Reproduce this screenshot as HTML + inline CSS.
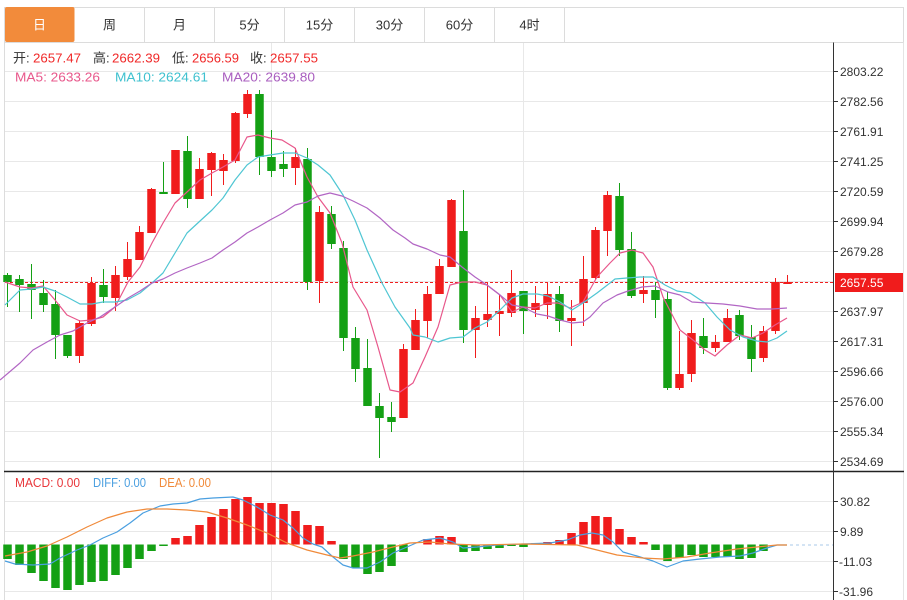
<!DOCTYPE html>
<html><head><meta charset="utf-8"><style>
html,body{margin:0;padding:0;background:#fff;}
svg{display:block;}
text{font-family:"Liberation Sans","Noto Sans CJK SC",sans-serif;}
</style></head><body>
<svg width="907" height="600" viewBox="0 0 907 600" xmlns="http://www.w3.org/2000/svg">
<rect x="0" y="0" width="907" height="600" fill="#fff"/>
<!-- tab bar -->
<rect x="4.5" y="7.5" width="899" height="35" fill="#fff" stroke="#dcdcdc"/>
<g stroke="#dcdcdc">
<line x1="144.5" y1="7.5" x2="144.5" y2="42.5"/><line x1="214.5" y1="7.5" x2="214.5" y2="42.5"/>
<line x1="284.5" y1="7.5" x2="284.5" y2="42.5"/><line x1="354.5" y1="7.5" x2="354.5" y2="42.5"/>
<line x1="424.5" y1="7.5" x2="424.5" y2="42.5"/><line x1="494.5" y1="7.5" x2="494.5" y2="42.5"/>
<line x1="564.5" y1="7.5" x2="564.5" y2="42.5"/>
</g>
<rect x="5" y="7" width="69.5" height="35" rx="2" fill="#f28b3b"/>
<g font-size="13" fill="#333" text-anchor="middle">
<text x="39.5" y="29.5" fill="#fff">日</text>
<text x="109.5" y="29.5">周</text>
<text x="179.5" y="29.5">月</text>
<text x="249.5" y="29.5">5分</text>
<text x="319.5" y="29.5">15分</text>
<text x="389.5" y="29.5">30分</text>
<text x="459.5" y="29.5">60分</text>
<text x="529.5" y="29.5">4时</text>
</g>
<!-- borders -->
<line x1="4.5" y1="42.5" x2="4.5" y2="600" stroke="#dcdcdc"/>
<line x1="903.5" y1="42.5" x2="903.5" y2="600" stroke="#e4e4e4"/>
<!-- grid -->
<g stroke="#e8e8e8" stroke-width="1">
<line x1="5" y1="71.5" x2="833" y2="71.5"/><line x1="5" y1="101.5" x2="833" y2="101.5"/>
<line x1="5" y1="131.5" x2="833" y2="131.5"/><line x1="5" y1="161.5" x2="833" y2="161.5"/>
<line x1="5" y1="191.5" x2="833" y2="191.5"/><line x1="5" y1="221.5" x2="833" y2="221.5"/>
<line x1="5" y1="251.5" x2="833" y2="251.5"/><line x1="5" y1="281.5" x2="833" y2="281.5"/>
<line x1="5" y1="311.5" x2="833" y2="311.5"/><line x1="5" y1="341.5" x2="833" y2="341.5"/>
<line x1="5" y1="371.5" x2="833" y2="371.5"/><line x1="5" y1="401.5" x2="833" y2="401.5"/>
<line x1="5" y1="431.5" x2="833" y2="431.5"/><line x1="5" y1="461.5" x2="833" y2="461.5"/>
<line x1="5" y1="501.5" x2="833" y2="501.5"/><line x1="5" y1="531.5" x2="833" y2="531.5"/>
<line x1="5" y1="561.5" x2="833" y2="561.5"/><line x1="5" y1="591.5" x2="833" y2="591.5"/>
<line x1="271.5" y1="43" x2="271.5" y2="600"/><line x1="523.5" y1="43" x2="523.5" y2="600"/>
</g>
<!-- header text -->
<g font-size="13">
<text x="13" y="62.5" fill="#333">开:</text><text x="33" y="62.5" fill="#f02828" textLength="48" lengthAdjust="spacingAndGlyphs">2657.47</text>
<text x="93" y="62.5" fill="#333">高:</text><text x="112" y="62.5" fill="#f02828" textLength="48" lengthAdjust="spacingAndGlyphs">2662.39</text>
<text x="172" y="62.5" fill="#333">低:</text><text x="192" y="62.5" fill="#f02828" textLength="47" lengthAdjust="spacingAndGlyphs">2656.59</text>
<text x="250" y="62.5" fill="#333">收:</text><text x="270" y="62.5" fill="#f02828" textLength="48" lengthAdjust="spacingAndGlyphs">2657.55</text>
<text x="15" y="81.5" fill="#e8578b" textLength="85" lengthAdjust="spacingAndGlyphs">MA5: 2633.26</text>
<text x="115" y="81.5" fill="#3fc1cf" textLength="93" lengthAdjust="spacingAndGlyphs">MA10: 2624.61</text>
<text x="222" y="81.5" fill="#a95ebf" textLength="93" lengthAdjust="spacingAndGlyphs">MA20: 2639.80</text>
</g>
<!-- last price dashed line -->
<line x1="5" y1="282.5" x2="833" y2="282.5" stroke="#f02020" stroke-dasharray="3,2"/>
<!-- green candles -->
<g fill="#14a014" stroke="#14a014" stroke-width="1">
<line x1="7.5" y1="273" x2="7.5" y2="307"/><rect x="3.25" y="275" width="8.5" height="7" stroke="none"/>
<line x1="19.5" y1="275" x2="19.5" y2="312"/><rect x="15.25" y="279" width="8.5" height="6" stroke="none"/>
<line x1="31.5" y1="264" x2="31.5" y2="319"/><rect x="27.25" y="284" width="8.5" height="6" stroke="none"/>
<line x1="43.5" y1="280" x2="43.5" y2="312"/><rect x="39.25" y="293" width="8.5" height="12" stroke="none"/>
<line x1="55.5" y1="290" x2="55.5" y2="359"/><rect x="51.25" y="304" width="8.5" height="31" stroke="none"/>
<line x1="67.5" y1="335" x2="67.5" y2="358"/><rect x="63.25" y="335" width="8.5" height="21" stroke="none"/>
<line x1="103.5" y1="269" x2="103.5" y2="303"/><rect x="99.25" y="285" width="8.5" height="12" stroke="none"/>
<line x1="163.5" y1="162" x2="163.5" y2="194"/><rect x="159.25" y="192" width="8.5" height="2" stroke="none"/>
<line x1="187.5" y1="136" x2="187.5" y2="208"/><rect x="183.25" y="151" width="8.5" height="48" stroke="none"/>
<line x1="259.5" y1="90" x2="259.5" y2="175"/><rect x="255.25" y="94" width="8.5" height="63" stroke="none"/>
<line x1="271.5" y1="130" x2="271.5" y2="177"/><rect x="267.25" y="157" width="8.5" height="14" stroke="none"/>
<line x1="283.5" y1="151" x2="283.5" y2="177"/><rect x="279.25" y="164" width="8.5" height="5" stroke="none"/>
<line x1="307.5" y1="148" x2="307.5" y2="290"/><rect x="303.25" y="159" width="8.5" height="123" stroke="none"/>
<line x1="331.5" y1="206" x2="331.5" y2="249"/><rect x="327.25" y="214" width="8.5" height="30" stroke="none"/>
<line x1="343.5" y1="241" x2="343.5" y2="351"/><rect x="339.25" y="248" width="8.5" height="90" stroke="none"/>
<line x1="355.5" y1="327" x2="355.5" y2="382"/><rect x="351.25" y="338" width="8.5" height="31" stroke="none"/>
<line x1="367.5" y1="339" x2="367.5" y2="406"/><rect x="363.25" y="368" width="8.5" height="38" stroke="none"/>
<line x1="379.5" y1="393" x2="379.5" y2="458"/><rect x="375.25" y="406" width="8.5" height="12" stroke="none"/>
<line x1="391.5" y1="402" x2="391.5" y2="432"/><rect x="387.25" y="417" width="8.5" height="5" stroke="none"/>
<line x1="463.5" y1="190" x2="463.5" y2="343"/><rect x="459.25" y="231" width="8.5" height="99" stroke="none"/>
<line x1="523.5" y1="291" x2="523.5" y2="334"/><rect x="519.25" y="291" width="8.5" height="20" stroke="none"/>
<line x1="559.5" y1="286" x2="559.5" y2="332"/><rect x="555.25" y="294" width="8.5" height="27" stroke="none"/>
<line x1="619.5" y1="183" x2="619.5" y2="256"/><rect x="615.25" y="196" width="8.5" height="54" stroke="none"/>
<line x1="631.5" y1="232" x2="631.5" y2="298"/><rect x="627.25" y="249" width="8.5" height="47" stroke="none"/>
<line x1="655.5" y1="282" x2="655.5" y2="318"/><rect x="651.25" y="290" width="8.5" height="10" stroke="none"/>
<line x1="667.5" y1="292" x2="667.5" y2="390"/><rect x="663.25" y="299" width="8.5" height="89" stroke="none"/>
<line x1="703.5" y1="318" x2="703.5" y2="354"/><rect x="699.25" y="336" width="8.5" height="12" stroke="none"/>
<line x1="739.5" y1="310" x2="739.5" y2="340"/><rect x="735.25" y="315" width="8.5" height="21" stroke="none"/>
<line x1="751.5" y1="325" x2="751.5" y2="372"/><rect x="747.25" y="337" width="8.5" height="22" stroke="none"/>
</g>
<!-- red candles -->
<g fill="#f01c1c" stroke="#f01c1c" stroke-width="1">
<line x1="79.5" y1="320" x2="79.5" y2="363"/><rect x="75.25" y="323" width="8.5" height="33" stroke="none"/>
<line x1="91.5" y1="277" x2="91.5" y2="326"/><rect x="87.25" y="283" width="8.5" height="41" stroke="none"/>
<line x1="115.5" y1="266" x2="115.5" y2="311"/><rect x="111.25" y="275" width="8.5" height="23" stroke="none"/>
<line x1="127.5" y1="242" x2="127.5" y2="280"/><rect x="123.25" y="259" width="8.5" height="18" stroke="none"/>
<line x1="139.5" y1="226" x2="139.5" y2="260"/><rect x="135.25" y="232" width="8.5" height="28" stroke="none"/>
<line x1="151.5" y1="188" x2="151.5" y2="233"/><rect x="147.25" y="189" width="8.5" height="44" stroke="none"/>
<line x1="175.5" y1="150" x2="175.5" y2="194"/><rect x="171.25" y="150" width="8.5" height="44" stroke="none"/>
<line x1="199.5" y1="158" x2="199.5" y2="199"/><rect x="195.25" y="169" width="8.5" height="30" stroke="none"/>
<line x1="211.5" y1="152" x2="211.5" y2="196"/><rect x="207.25" y="153" width="8.5" height="17" stroke="none"/>
<line x1="223.5" y1="154" x2="223.5" y2="185"/><rect x="219.25" y="160" width="8.5" height="11" stroke="none"/>
<line x1="235.5" y1="112" x2="235.5" y2="163"/><rect x="231.25" y="113" width="8.5" height="48" stroke="none"/>
<line x1="247.5" y1="90" x2="247.5" y2="118"/><rect x="243.25" y="94" width="8.5" height="20" stroke="none"/>
<line x1="295.5" y1="148" x2="295.5" y2="185"/><rect x="291.25" y="157" width="8.5" height="11" stroke="none"/>
<line x1="319.5" y1="206" x2="319.5" y2="303"/><rect x="315.25" y="212" width="8.5" height="69" stroke="none"/>
<line x1="403.5" y1="344" x2="403.5" y2="418"/><rect x="399.25" y="349" width="8.5" height="69" stroke="none"/>
<line x1="415.5" y1="309" x2="415.5" y2="350"/><rect x="411.25" y="320" width="8.5" height="30" stroke="none"/>
<line x1="427.5" y1="286" x2="427.5" y2="338"/><rect x="423.25" y="294" width="8.5" height="27" stroke="none"/>
<line x1="439.5" y1="259" x2="439.5" y2="294"/><rect x="435.25" y="266" width="8.5" height="28" stroke="none"/>
<line x1="451.5" y1="199" x2="451.5" y2="267"/><rect x="447.25" y="200" width="8.5" height="67" stroke="none"/>
<line x1="475.5" y1="306" x2="475.5" y2="358"/><rect x="471.25" y="318" width="8.5" height="12" stroke="none"/>
<line x1="487.5" y1="283" x2="487.5" y2="327"/><rect x="483.25" y="314" width="8.5" height="6" stroke="none"/>
<line x1="499.5" y1="295" x2="499.5" y2="336"/><rect x="495.25" y="311" width="8.5" height="3" stroke="none"/>
<line x1="511.5" y1="270" x2="511.5" y2="317"/><rect x="507.25" y="293" width="8.5" height="20" stroke="none"/>
<line x1="535.5" y1="286" x2="535.5" y2="317"/><rect x="531.25" y="303" width="8.5" height="7" stroke="none"/>
<line x1="547.5" y1="283" x2="547.5" y2="319"/><rect x="543.25" y="294" width="8.5" height="11" stroke="none"/>
<line x1="571.5" y1="300" x2="571.5" y2="346"/><rect x="567.25" y="318" width="8.5" height="3" stroke="none"/>
<line x1="583.5" y1="256" x2="583.5" y2="326"/><rect x="579.25" y="279" width="8.5" height="24" stroke="none"/>
<line x1="595.5" y1="227" x2="595.5" y2="280"/><rect x="591.25" y="230" width="8.5" height="48" stroke="none"/>
<line x1="607.5" y1="191" x2="607.5" y2="256"/><rect x="603.25" y="195" width="8.5" height="36" stroke="none"/>
<line x1="643.5" y1="276" x2="643.5" y2="303"/><rect x="639.25" y="290" width="8.5" height="4" stroke="none"/>
<line x1="679.5" y1="331" x2="679.5" y2="390"/><rect x="675.25" y="374" width="8.5" height="14" stroke="none"/>
<line x1="691.5" y1="320" x2="691.5" y2="382"/><rect x="687.25" y="333" width="8.5" height="41" stroke="none"/>
<line x1="715.5" y1="335" x2="715.5" y2="352"/><rect x="711.25" y="342" width="8.5" height="6" stroke="none"/>
<line x1="727.5" y1="309" x2="727.5" y2="342"/><rect x="723.25" y="318" width="8.5" height="24" stroke="none"/>
<line x1="763.5" y1="326" x2="763.5" y2="362"/><rect x="759.25" y="331" width="8.5" height="27" stroke="none"/>
<line x1="775.5" y1="278" x2="775.5" y2="334"/><rect x="771.25" y="282" width="8.5" height="49" stroke="none"/>
<line x1="787.5" y1="275" x2="787.5" y2="284"/><rect x="783.25" y="282" width="8.5" height="2" stroke="none"/>
</g>
<!-- MA lines -->
<g fill="none" stroke-width="1.2" stroke-linejoin="round">
<polyline stroke="#e8578b" points="5,282 20,287 32,288 43,286 55,300 67,315 80,321 92,320 103,317 115,307 128,282 140,267 152,243 163,223 175,203 187,192 200,180 212,173 223,167 235,160 247,137 258,135 270,138 282,140 295,148 307,177 318,197 330,213 342,243 353,287 367,310 378,347 390,390 400,392 413,383 425,357 438,327 450,285 462,282 475,282 487,285 500,295 512,312 523,307 535,308 547,303 558,303 570,308 583,302 597,277 610,263 620,253 632,250 643,253 653,267 663,297 680,330 693,340 705,350 715,356 727,345 740,335 752,338 763,333 775,325 787,318"/>
<polyline stroke="#4fc6d3" points="5,305 20,290 32,289 43,287 55,291 67,297 80,304 92,304 103,302 115,302 127,300 140,293 152,283 163,273 175,253 187,233 200,221 212,210 223,198 235,180 247,165 258,157 270,155 283,153 295,153 307,158 318,165 330,175 343,195 355,220 367,250 382,283 395,307 400,314 410,328 413,335 425,337 438,342 450,338 463,337 475,328 487,322 500,310 512,298 523,294 537,294 548,296 560,302 572,310 583,303 597,293 610,283 615,279 627,278 640,277 653,277 665,285 677,291 690,293 705,303 717,317 730,330 743,337 757,341 767,342 777,338 787,331"/>
<polyline stroke="#b266c4" points="0,380 20,363 33,350 47,342 60,335 73,331 87,323 100,317 115,307 128,298 140,291 152,283 163,279 175,273 187,268 200,263 212,258 223,250 235,242 247,233 258,227 270,220 283,213 295,205 307,202 318,196 330,193 342,196 353,201 367,208 380,218 393,230 405,238 413,244 427,249 440,255 450,257 462,267 475,277 487,285 500,295 512,305 523,307 537,314 548,316 560,320 572,323 583,322 590,317 603,303 617,295 628,291 642,287 655,286 668,292 680,295 692,302 707,303 723,304 740,306 757,309 772,309 787,308"/>
</g>
<!-- MACD labels -->
<g font-size="13">
<text x="15" y="487" fill="#e8363a" textLength="65" lengthAdjust="spacingAndGlyphs">MACD: 0.00</text>
<text x="93" y="487" fill="#4a9fe0" textLength="53" lengthAdjust="spacingAndGlyphs">DIFF: 0.00</text>
<text x="159" y="487" fill="#f08a3a" textLength="52" lengthAdjust="spacingAndGlyphs">DEA: 0.00</text>
</g>
<!-- MACD bars green -->
<g fill="#14a014">
<rect x="3.25" y="544.5" width="8.5" height="14.5"/><rect x="15.25" y="544.5" width="8.5" height="20.5"/>
<rect x="27.25" y="544.5" width="8.5" height="28.5"/><rect x="39.25" y="544.5" width="8.5" height="36.5"/>
<rect x="51.25" y="544.5" width="8.5" height="43.5"/><rect x="63.25" y="544.5" width="8.5" height="45.5"/>
<rect x="75.25" y="544.5" width="8.5" height="40.5"/><rect x="87.25" y="544.5" width="8.5" height="37.5"/>
<rect x="99.25" y="544.5" width="8.5" height="36.5"/><rect x="111.25" y="544.5" width="8.5" height="30.5"/>
<rect x="123.25" y="544.5" width="8.5" height="23.5"/><rect x="135.25" y="544.5" width="8.5" height="14.5"/>
<rect x="147.25" y="544.5" width="8.5" height="6.5"/><rect x="159.25" y="544.5" width="8.5" height="1.5"/>
<rect x="339.25" y="544.5" width="8.5" height="14.5"/><rect x="351.25" y="544.5" width="8.5" height="23.5"/>
<rect x="363.25" y="544.5" width="8.5" height="29.5"/><rect x="375.25" y="544.5" width="8.5" height="27.5"/>
<rect x="387.25" y="544.5" width="8.5" height="21.5"/><rect x="399.25" y="544.5" width="8.5" height="7.5"/>
<rect x="459.25" y="544.5" width="8.5" height="7.5"/><rect x="471.25" y="544.5" width="8.5" height="6.5"/>
<rect x="483.25" y="544.5" width="8.5" height="4.5"/><rect x="495.25" y="544.5" width="8.5" height="3.5"/>
<rect x="507.25" y="544.5" width="8.5" height="1.5"/><rect x="519.25" y="544.5" width="8.5" height="2.5"/>
<rect x="651.25" y="544.5" width="8.5" height="5.5"/><rect x="663.25" y="544.5" width="8.5" height="16.5"/>
<rect x="675.25" y="544.5" width="8.5" height="13.5"/><rect x="687.25" y="544.5" width="8.5" height="10.5"/>
<rect x="699.25" y="544.5" width="8.5" height="12.5"/><rect x="711.25" y="544.5" width="8.5" height="12.5"/>
<rect x="723.25" y="544.5" width="8.5" height="12.5"/><rect x="735.25" y="544.5" width="8.5" height="14.5"/>
<rect x="747.25" y="544.5" width="8.5" height="13.5"/><rect x="759.25" y="544.5" width="8.5" height="6.5"/>
</g>
<!-- MACD bars red -->
<g fill="#f01c1c">
<rect x="171.25" y="538" width="8.5" height="6.5"/><rect x="183.25" y="536" width="8.5" height="8.5"/>
<rect x="195.25" y="525" width="8.5" height="19.5"/><rect x="207.25" y="517" width="8.5" height="27.5"/>
<rect x="219.25" y="509" width="8.5" height="35.5"/><rect x="231.25" y="499" width="8.5" height="45.5"/>
<rect x="243.25" y="497" width="8.5" height="47.5"/><rect x="255.25" y="503" width="8.5" height="41.5"/>
<rect x="267.25" y="503" width="8.5" height="41.5"/><rect x="279.25" y="504" width="8.5" height="40.5"/>
<rect x="291.25" y="511" width="8.5" height="33.5"/><rect x="303.25" y="525" width="8.5" height="19.5"/>
<rect x="315.25" y="526" width="8.5" height="18.5"/><rect x="327.25" y="541" width="8.5" height="3.5"/>
<rect x="423.25" y="539" width="8.5" height="5.5"/><rect x="435.25" y="536" width="8.5" height="8.5"/>
<rect x="447.25" y="537" width="8.5" height="7.5"/>
<rect x="531.25" y="543" width="8.5" height="1.5"/><rect x="543.25" y="542" width="8.5" height="2.5"/>
<rect x="555.25" y="540" width="8.5" height="4.5"/><rect x="567.25" y="533" width="8.5" height="11.5"/>
<rect x="579.25" y="522" width="8.5" height="22.5"/><rect x="591.25" y="516" width="8.5" height="28.5"/>
<rect x="603.25" y="517" width="8.5" height="27.5"/><rect x="615.25" y="529" width="8.5" height="15.5"/>
<rect x="627.25" y="537" width="8.5" height="7.5"/><rect x="639.25" y="542" width="8.5" height="2.5"/>
</g>
<!-- DIFF / DEA -->
<g fill="none" stroke-width="1.2" stroke-linejoin="round">
<polyline stroke="#4a9fe0" points="5,561 15,564 33,565 50,564 60,558 77,550 90,545 103,538 117,532 130,523 143,513 160,506 173,504 187,503 200,499 213,498 233,497 243,500 257,507 270,515 283,520 293,528 303,538 313,544 322,547 333,557 343,565 353,568 367,568 380,562 393,553 407,547 423,540 440,538 453,542 463,548 477,547 497,545 523,544 550,543 567,540 580,535 592,533 603,535 613,542 623,552 637,556 653,561 667,567 683,561 700,559 720,557 740,556 753,553 767,548 777,545 787,545"/>
<polyline stroke="#f08a3a" points="5,556 27,552 47,546 67,537 87,527 107,518 127,512 147,509 167,509 187,510 207,512 227,518 247,525 267,533 287,543 307,550 327,555 340,558 353,556 373,552 393,547 410,543 430,542 450,544 477,545 523,544 577,545 597,550 617,555 643,558 663,559 687,557 710,553 737,549 757,547 777,545 787,545"/>
</g>
<line x1="790" y1="545" x2="833" y2="545" stroke="#a9c9ea" stroke-dasharray="3,3"/>
<!-- separators and axis -->
<line x1="4" y1="471.5" x2="904" y2="471.5" stroke="#222" stroke-width="1.5"/>
<line x1="833.5" y1="42.5" x2="833.5" y2="600" stroke="#333"/>
<g stroke="#333">
<line x1="834" y1="71.5" x2="838" y2="71.5"/><line x1="834" y1="101.5" x2="838" y2="101.5"/>
<line x1="834" y1="131.5" x2="838" y2="131.5"/><line x1="834" y1="161.5" x2="838" y2="161.5"/>
<line x1="834" y1="191.5" x2="838" y2="191.5"/><line x1="834" y1="221.5" x2="838" y2="221.5"/>
<line x1="834" y1="251.5" x2="838" y2="251.5"/>
<line x1="834" y1="311.5" x2="838" y2="311.5"/><line x1="834" y1="341.5" x2="838" y2="341.5"/>
<line x1="834" y1="371.5" x2="838" y2="371.5"/><line x1="834" y1="401.5" x2="838" y2="401.5"/>
<line x1="834" y1="431.5" x2="838" y2="431.5"/><line x1="834" y1="461.5" x2="838" y2="461.5"/>
<line x1="834" y1="501.5" x2="838" y2="501.5"/><line x1="834" y1="531.5" x2="838" y2="531.5"/>
<line x1="834" y1="561.5" x2="838" y2="561.5"/><line x1="834" y1="591.5" x2="838" y2="591.5"/>
</g>
<g font-size="12" fill="#333">
<text x="840" y="75.8">2803.22</text><text x="840" y="105.8">2782.56</text>
<text x="840" y="135.8">2761.91</text><text x="840" y="165.8">2741.25</text>
<text x="840" y="195.8">2720.59</text><text x="840" y="225.8">2699.94</text>
<text x="840" y="255.8">2679.28</text>
<text x="840" y="315.8">2637.97</text><text x="840" y="345.8">2617.31</text>
<text x="840" y="375.8">2596.66</text><text x="840" y="405.8">2576.00</text>
<text x="840" y="435.8">2555.34</text><text x="840" y="465.8">2534.69</text>
<text x="840" y="505.8">30.82</text><text x="840" y="535.8">9.89</text>
<text x="839" y="565.8">-11.03</text><text x="839" y="595.8">-31.96</text>
</g>
<rect x="835" y="273" width="68" height="19" fill="#f01c1c"/>
<text x="840" y="287" font-size="12" fill="#fff">2657.55</text>
</svg>
</body></html>
